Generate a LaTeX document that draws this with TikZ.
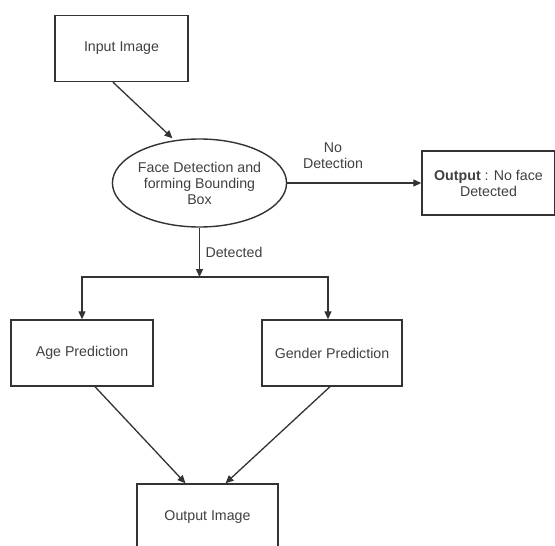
\documentclass[tikz,border=0pt]{standalone}
\usepackage{fontspec}
\setmainfont{Liberation Sans}
\usetikzlibrary{arrows.meta,shapes.geometric}
\definecolor{linec}{HTML}{333333}
\definecolor{textc}{HTML}{404040}
\begin{document}
\begin{tikzpicture}[x=1pt,y=-1pt,
  every node/.style={font=\fontsize{14.2}{16}\selectfont, text=textc},
  box/.style={draw=linec, line width=1.4pt, rectangle, inner sep=0pt, align=center},
  oval/.style={draw=linec, line width=1.4pt, ellipse, inner sep=0pt, align=center, minimum width=143pt, minimum height=88pt},
  conn/.style={draw=linec, line width=1.3pt, -{Triangle[length=8pt,width=7pt]}},
  lbl/.style={align=center, inner sep=0pt}]
\useasboundingbox[fill=white] (0,0) rectangle (555,546);

\node[box, minimum width=133pt, minimum height=66pt] (in) at (121.5,48.5) {Input Image};
\node[oval] (fd) at (199.5,183) {Face Detection and\\forming Bounding\\Box};
\node[box, minimum width=133pt, minimum height=64pt] (nf) at (488.5,183) {\textbf{Output} : No face\\Detected};
\node[box, minimum width=142pt, minimum height=66pt] (age) at (82,353) {Age Prediction};
\node[box, minimum width=140pt, minimum height=66pt] (gen) at (332,353) {Gender Prediction};
\node[box, minimum width=141pt, minimum height=66pt] (out) at (207.5,517) {Output Image};

\coordinate (br) at (199.5,277);

\draw[conn] ([xshift=-8.5pt]in.south) -- ([xshift=-27pt]fd.north);
\draw[conn] (fd.east) -- (nf.west);
\node[lbl] (nolbl) at (333,156) {No\\Detection};
\draw[conn] (fd.south) -- (br);
\node[lbl] (detlbl) at (234,252) {Detected};
\draw[conn] (br) -| (age.north);
\draw[conn] (br) -| ([xshift=-4pt]gen.north);
\draw[conn] ([xshift=13pt]age.south) -- ([xshift=-22pt]out.north);
\draw[conn] ([xshift=-2pt]gen.south) -- ([xshift=18pt]out.north);
\end{tikzpicture}
\end{document}
